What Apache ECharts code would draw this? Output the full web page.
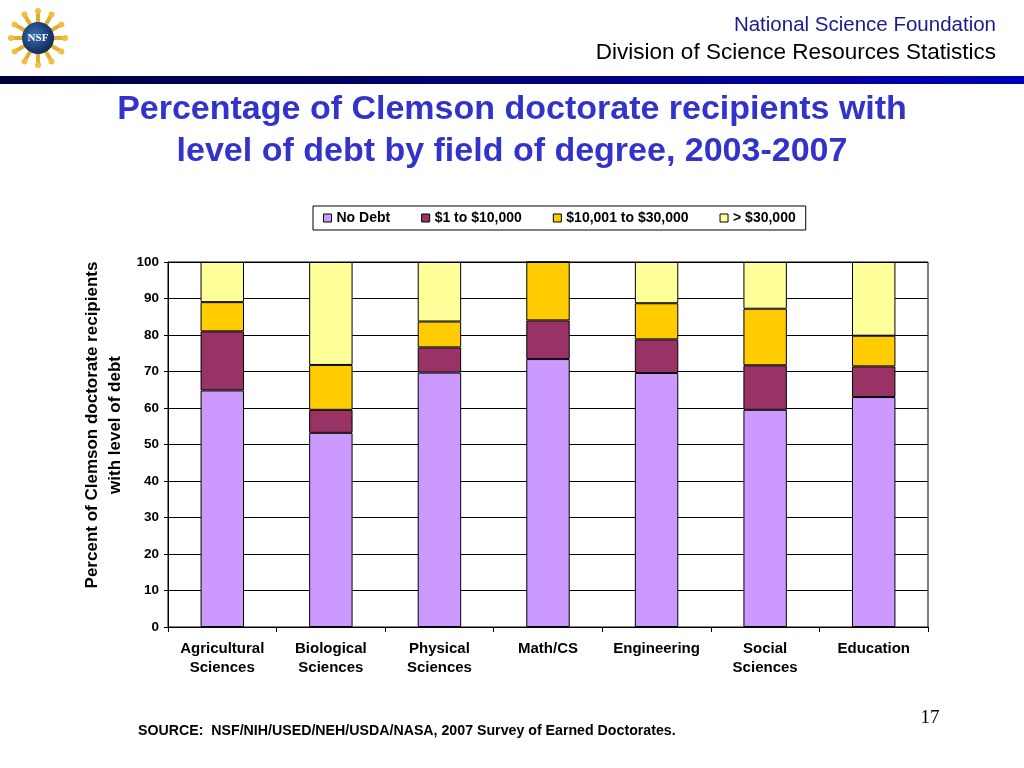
<!DOCTYPE html>
<html>
<head>
<meta charset="utf-8">
<script src="https://cdn.jsdelivr.net/npm/echarts@6/dist/echarts.min.js"></script>
<style>html,body{margin:0;padding:0;background:#fff;}#c{width:1024px;height:768px;}</style>
</head>
<body>
<div id="c"></div>
<script>
const categories = ['Agricultural\nSciences', 'Biological\nSciences', 'Physical\nSciences', 'Math/CS', 'Engineering', 'Social\nSciences', 'Education'];
const seriesNames = ['No Debt', '$1 to $10,000', '$10,001 to $30,000', '> $30,000'];
const noDebt = [64.8, 53.2, 69.7, 73.4, 69.6, 59.5, 63.0];
const debt1to10k = [16.2, 6.3, 6.9, 10.6, 9.2, 12.2, 8.4];
const debt10to30k = [8.0, 12.3, 7.1, 16.0, 9.9, 15.5, 8.4];
const debtOver30k = [11.0, 28.2, 16.3, 0, 11.3, 12.8, 20.2];
const yTicks = [0, 10, 20, 30, 40, 50, 60, 70, 80, 90, 100];

const colors = ['#cc99ff', '#993366', '#ffcc00', '#ffff99'];
const dataSets = [noDebt, debt1to10k, debt10to30k, debtOver30k];
const FONT = 'Liberation Sans, Arial, sans-serif';

const chart = echarts.init(document.getElementById('c'), null, {renderer: 'canvas'});

// logo rays
const rays = [];
for (let i = 0; i < 12; i++) {
  const a = i * Math.PI / 6;
  rays.push({
    type: 'line',
    shape: {x1: 38 + Math.cos(a) * 14, y1: 38 + Math.sin(a) * 14, x2: 38 + Math.cos(a) * 29, y2: 38 + Math.sin(a) * 29},
    style: {stroke: '#e0b030', lineWidth: 4}
  });
  rays.push({
    type: 'circle',
    shape: {cx: 38 + Math.cos(a) * 27, cy: 38 + Math.sin(a) * 27, r: 3},
    style: {fill: '#f0c040'}
  });
}

const series = seriesNames.map((n, i) => ({
  name: n,
  type: 'bar',
  stack: 'debt',
  data: dataSets[i],
  barWidth: '40%',
  itemStyle: {color: colors[i], borderColor: '#000', borderWidth: 1},
  emphasis: {disabled: true}
}));

chart.setOption({
  animation: false,
  textStyle: {fontFamily: FONT},
  legend: {
    data: seriesNames,
    left: 313, top: 206,
    padding: [5, 10, 5, 10],
    itemGap: 31,
    itemWidth: 8, itemHeight: 8,
    borderColor: '#000', borderWidth: 1,
    textStyle: {fontWeight: 'bold', fontSize: 14, color: '#000', fontFamily: FONT, padding: [0, 0, 0, 0]},
    itemStyle: {borderColor: '#000', borderWidth: 1},
    icon: 'rect'
  },
  grid: {left: 168, right: 96, top: 262, bottom: 141, show: true, borderColor: '#000', borderWidth: 1},
  xAxis: {
    type: 'category',
    data: categories,
    axisLine: {lineStyle: {color: '#000'}},
    axisTick: {show: true, length: 5, lineStyle: {color: '#000'}},
    axisLabel: {color: '#000', fontWeight: 'bold', fontSize: 15, lineHeight: 19, margin: 12, interval: 0, fontFamily: FONT}
  },
  yAxis: {
    type: 'value',
    min: 0, max: 100, interval: 10,
    axisLine: {show: true, lineStyle: {color: '#000'}},
    axisTick: {show: true, length: 4, lineStyle: {color: '#000'}},
    axisLabel: {color: '#000', fontWeight: 'bold', fontSize: 13.5, margin: 9, fontFamily: FONT,
      formatter: v => yTicks.includes(v) ? String(v) : ''},
    splitLine: {show: true, lineStyle: {color: '#000', width: 1}}
  },
  series: series,
  graphic: [
    {type: 'rect', shape: {x: 0, y: 76, width: 1024, height: 8},
      style: {fill: new echarts.graphic.LinearGradient(0, 0, 1, 0, [{offset: 0, color: '#000038'}, {offset: 1, color: '#0000b8'}])}},
    ...rays,
    {type: 'circle', shape: {cx: 38, cy: 38, r: 16},
      style: {fill: new echarts.graphic.RadialGradient(0.4, 0.4, 0.7, [{offset: 0, color: '#3a6fb0'}, {offset: 1, color: '#0a2050'}])}},
    {type: 'text',
      style: {text: 'NSF', x: 38, y: 38, textAlign: 'center', textVerticalAlign: 'middle', fill: '#fff', font: 'bold 11px Liberation Serif'}},
    {type: 'text', style: {text: 'National Science Foundation', x: 996, y: 25, textAlign: 'right', textVerticalAlign: 'middle', fill: '#1a1a8c', font: '20.5px ' + FONT}},
    {type: 'text', style: {text: 'Division of Science Resources Statistics', x: 996, y: 53, textAlign: 'right', textVerticalAlign: 'middle', fill: '#000', font: '22.5px ' + FONT}},
    {type: 'text', style: {text: 'Percentage of Clemson doctorate recipients with\nlevel of debt by field of degree, 2003-2007', x: 512, y: 131, textAlign: 'center', textVerticalAlign: 'middle', fill: '#3333cc', font: 'bold 34px ' + FONT, lineHeight: 42}},
    {type: 'text', x: 104, y: 425, rotation: Math.PI / 2,
      style: {text: 'Percent of Clemson doctorate recipients\nwith level of debt', x: 0, y: 0, textAlign: 'center', textVerticalAlign: 'middle', fill: '#000', font: 'bold 17px ' + FONT, lineHeight: 23}},
    {type: 'text', style: {text: 'SOURCE:  NSF/NIH/USED/NEH/USDA/NASA, 2007 Survey of Earned Doctorates.', x: 138, y: 731, textAlign: 'left', textVerticalAlign: 'middle', fill: '#000', font: 'bold 14.2px ' + FONT}},
    {type: 'text', style: {text: '17', x: 930, y: 718, textAlign: 'center', textVerticalAlign: 'middle', fill: '#000', font: '19px Liberation Serif'}}
  ]
});
</script>
</body>
</html>
